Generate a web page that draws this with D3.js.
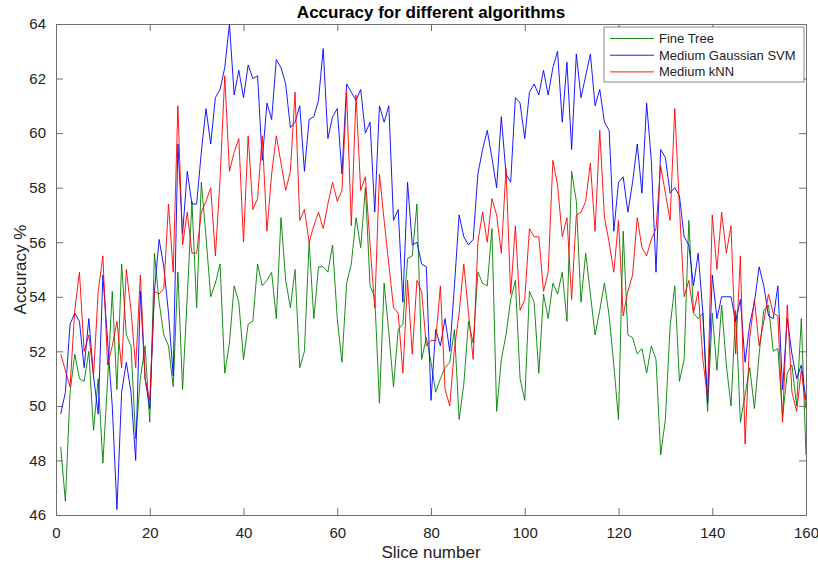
<!DOCTYPE html>
<html lang="en">
<head>
    <meta charset="UTF-8">
    <title>Accuracy for different algorithms</title>
    <script src="https://d3js.org/d3.v7.min.js"></script>
    <style>
        body { margin: 0; background: #fff; }
        svg { font-family: "Liberation Sans", Arial, Helvetica, sans-serif; }
        .axis path, .axis line { stroke: #6e6e6e; }
        .axis text { fill: #222; font-size: 15px; }
        .series { fill: none; stroke-width: 0.9px; stroke-linejoin: round; }
    </style>
</head>
<body>
<div id="chart"></div>
<script>
    // Accuracy (%) per slice, slices 1..160
    const fineTree = [
        48.5, 46.5, 50.5, 51.9, 51.0, 50.9, 52.0, 49.1, 51.0, 47.9,
        50.9, 54.2, 50.6, 55.2, 52.6, 52.2, 48.8, 51.0, 52.2, 49.4,
        55.6, 53.8, 52.6, 52.2, 50.7, 54.9, 50.6, 54.0, 57.5, 53.6,
        58.2, 56.2, 54.0, 54.5, 55.2, 51.2, 52.3, 54.4, 53.8, 51.7,
        53.0, 53.1, 55.2, 54.4, 54.6, 54.9, 53.2, 56.9, 54.6, 53.6,
        55.0, 51.4, 52.0, 56.0, 53.2, 55.1, 55.1, 54.9, 55.9, 53.2,
        51.6, 54.5, 55.2, 56.9, 55.8, 58.0, 54.4, 54.0, 50.1, 54.5,
        52.7, 50.7, 52.8, 53.0, 55.4, 55.5, 57.4, 51.7, 52.5, 51.6,
        50.5, 51.0, 51.4, 51.6, 52.8, 49.5, 50.8, 53.1, 52.3, 54.9,
        54.5, 54.4, 56.5, 49.8, 51.7, 52.6, 53.9, 54.6, 51.0, 50.2,
        54.2, 53.8, 51.2, 54.1, 53.2, 54.5, 54.1, 54.9, 53.1, 58.6,
        57.5, 53.8, 55.6, 54.1, 52.6, 53.5, 54.5, 53.3, 51.5, 49.5,
        56.4, 52.6, 52.5, 51.9, 52.1, 51.2, 52.2, 51.7, 48.2, 49.5,
        52.9, 54.4, 50.9, 51.7, 56.8, 53.4, 53.2, 53.4, 49.8, 53.4,
        51.3, 53.7, 51.5, 50.0, 53.5, 49.4, 50.4, 51.4, 49.9, 51.9,
        53.5, 53.7, 52.0, 52.1, 49.6, 51.2, 51.5, 50.0, 53.2, 48.2
    ];
    const gaussianSvm = [
        49.7, 50.5, 53.0, 53.4, 53.1, 51.4, 53.2, 51.1, 49.7, 54.8,
        52.4, 50.0, 46.2, 50.5, 51.6, 50.5, 48.0, 54.2, 51.0, 49.9,
        54.2, 56.1, 55.1, 53.4, 51.1, 59.6, 56.3, 58.6, 57.4, 57.4,
        59.3, 60.9, 59.6, 61.3, 61.6, 62.4, 64.0, 61.4, 62.3, 61.3,
        62.5, 62.0, 62.1, 59.0, 61.1, 60.5, 62.7, 62.4, 61.8, 60.2,
        60.4, 61.0, 58.6, 60.5, 60.6, 61.2, 63.1, 59.8, 60.6, 60.9,
        58.5, 61.8, 61.5, 61.2, 61.6, 60.0, 60.4, 57.1, 61.0, 60.4,
        61.0, 56.8, 57.2, 53.8, 58.2, 55.9, 56.0, 55.2, 55.1, 50.2,
        52.8, 52.2, 53.2, 52.0, 54.4, 57.0, 56.2, 55.9, 56.1, 58.5,
        59.4, 60.1, 59.1, 58.0, 60.6, 58.5, 58.2, 61.3, 61.1, 59.8,
        61.5, 61.8, 61.4, 62.3, 61.4, 62.4, 63.0, 60.4, 62.6, 59.4,
        62.9, 61.3, 62.1, 62.9, 61.0, 61.6, 60.4, 60.1, 56.4, 58.2,
        58.4, 57.1, 58.2, 59.6, 57.8, 61.1, 59.0, 54.9, 59.4, 59.1,
        57.8, 58.0, 57.7, 56.2, 55.9, 54.4, 55.6, 53.4, 50.1, 54.8,
        53.2, 54.0, 54.0, 54.0, 53.1, 53.9, 51.6, 53.0, 53.8, 55.1,
        54.4, 53.3, 53.2, 54.4, 50.6, 53.2, 51.9, 51.0, 51.5, 50.2
    ];
    const mediumKnn = [
        51.9, 51.3, 50.7, 53.5, 54.9, 52.0, 52.6, 51.1, 54.2, 55.5,
        51.5, 52.2, 53.1, 51.4, 55.0, 53.5, 51.4, 54.8, 51.0, 50.2,
        54.2, 54.1, 54.3, 57.4, 54.9, 61.0, 55.9, 57.1, 55.6, 55.6,
        57.1, 57.5, 58.0, 55.5, 58.3, 62.1, 58.6, 59.3, 59.8, 56.0,
        59.9, 57.2, 57.6, 59.9, 56.4, 58.5, 59.9, 58.9, 57.9, 58.6,
        61.5, 56.8, 57.2, 56.0, 56.6, 57.1, 56.5, 57.4, 58.2, 57.5,
        57.9, 61.5, 56.6, 61.4, 57.9, 58.4, 55.9, 53.6, 58.5, 56.8,
        55.2, 53.6, 53.4, 51.2, 54.6, 51.9, 54.6, 54.2, 52.2, 52.4,
        52.4, 54.4, 50.6, 50.0, 52.1, 53.4, 55.2, 53.4, 51.7, 56.0,
        57.1, 56.0, 57.6, 57.0, 55.6, 58.7, 54.1, 56.6, 53.5, 53.9,
        56.5, 56.2, 56.2, 54.2, 54.9, 59.0, 58.1, 56.2, 56.9, 53.9,
        57.0, 57.1, 57.5, 58.9, 56.4, 60.1, 56.9, 56.0, 54.9, 56.8,
        53.3, 54.2, 54.8, 56.9, 55.8, 55.5, 56.1, 56.5, 58.8, 57.8,
        56.8, 60.9, 57.3, 54.0, 54.6, 53.4, 54.2, 51.7, 50.3, 57.0,
        55.0, 57.1, 55.6, 56.6, 51.9, 55.5, 48.6, 52.5, 53.9, 52.2,
        53.1, 54.1, 53.4, 53.3, 49.4, 53.7, 50.5, 49.8, 51.3, 49.9
    ];

    const seriesNames = ["Fine Tree", "Medium Gaussian SVM", "Medium kNN"];
    const seriesColors = ["#008000", "#0000ff", "#ff0000"];
    const seriesValues = [fineTree, gaussianSvm, mediumKnn];

    const xTicks = [0, 20, 40, 60, 80, 100, 120, 140, 160];
    const yTicks = [46, 48, 50, 52, 54, 56, 58, 60, 62, 64];

    const width = 818, height = 564;
    const margin = {top: 24, right: 12, bottom: 49, left: 56};
    const innerW = width - margin.left - margin.right;
    const innerH = height - margin.top - margin.bottom;

    const svg = d3.select("#chart").append("svg")
        .attr("width", width)
        .attr("height", height);

    const g = svg.append("g")
        .attr("transform", `translate(${margin.left},${margin.top})`);

    const x = d3.scaleLinear().domain([0, 160]).range([0, innerW]);
    const y = d3.scaleLinear().domain([46, 64]).range([innerH, 0]);

    // axes with inward ticks, box on all four sides
    const tickLen = 7;
    g.append("g").attr("class", "axis")
        .attr("transform", `translate(0,${innerH})`)
        .call(d3.axisBottom(x).tickValues(xTicks).tickSizeInner(-tickLen).tickSizeOuter(0).tickPadding(12));
    g.append("g").attr("class", "axis")
        .call(d3.axisTop(x).tickValues(xTicks).tickSizeInner(-tickLen).tickSizeOuter(0).tickFormat(""));
    g.append("g").attr("class", "axis")
        .call(d3.axisLeft(y).tickValues(yTicks).tickSizeInner(-tickLen).tickSizeOuter(0).tickPadding(10));
    g.append("g").attr("class", "axis")
        .attr("transform", `translate(${innerW},0)`)
        .call(d3.axisRight(y).tickValues(yTicks).tickSizeInner(-tickLen).tickSizeOuter(0).tickFormat(""));

    // lines
    const line = d3.line()
        .x((d, i) => x(i + 1))
        .y(d => y(d));

    seriesValues.forEach((vals, k) => {
        g.append("path")
            .datum(vals)
            .attr("class", "series")
            .attr("stroke", seriesColors[k])
            .attr("d", line);
    });

    // title and axis labels
    svg.append("text")
        .attr("x", margin.left + innerW / 2)
        .attr("y", 18)
        .attr("text-anchor", "middle")
        .style("font-size", "17px")
        .style("font-weight", "bold")
        .text("Accuracy for different algorithms");

    svg.append("text")
        .attr("x", margin.left + innerW / 2)
        .attr("y", 558)
        .attr("text-anchor", "middle")
        .style("font-size", "17px")
        .attr("fill", "#222")
        .text("Slice number");

    svg.append("text")
        .attr("transform", `translate(26,${margin.top + innerH / 2}) rotate(-90)`)
        .attr("text-anchor", "middle")
        .style("font-size", "17px")
        .attr("fill", "#222")
        .text("Accuracy %");

    // legend
    const legend = svg.append("g").attr("transform", "translate(604,27)");
    legend.append("rect")
        .attr("width", 200)
        .attr("height", 55)
        .attr("fill", "#fff")
        .attr("stroke", "#6e6e6e")
        .attr("stroke-width", 0.8);

    seriesNames.forEach((name, k) => {
        const row = legend.append("g").attr("transform", `translate(0,${11.5 + k * 16.7})`);
        row.append("line")
            .attr("x1", 6).attr("x2", 50)
            .attr("stroke", seriesColors[k])
            .attr("stroke-width", 0.9);
        row.append("text")
            .attr("x", 55)
            .attr("dy", "0.35em")
            .style("font-size", "13px")
            .attr("fill", "#222")
            .text(name);
    });
</script>
</body>
</html>
